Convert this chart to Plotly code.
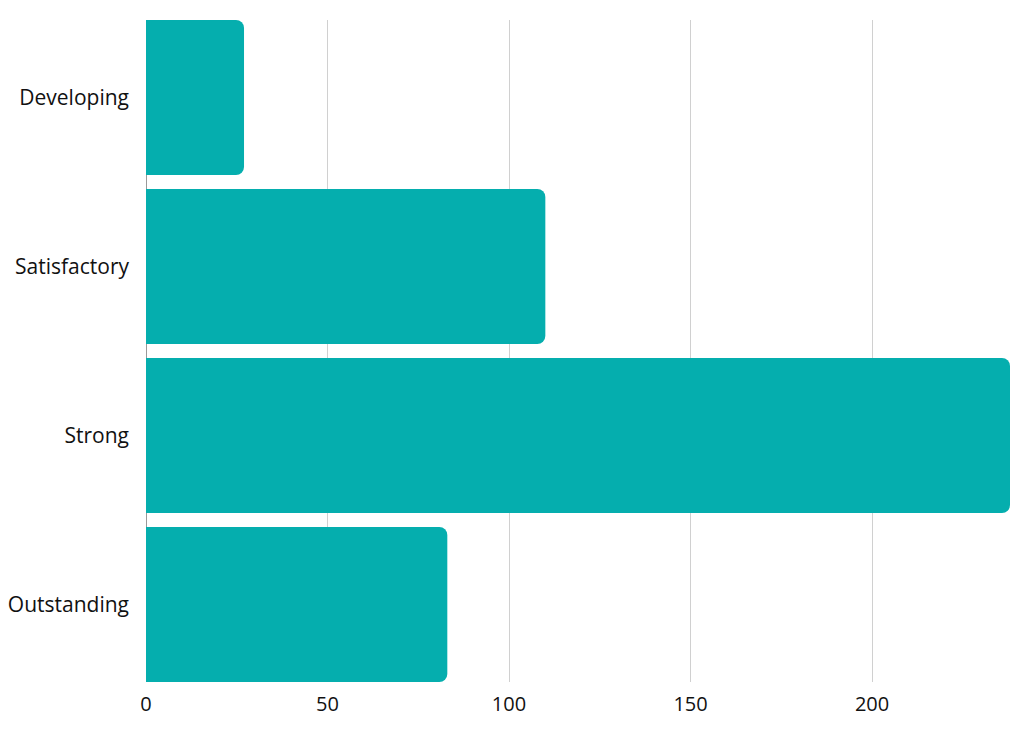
import plotly.graph_objects as go

categories = ["Outstanding", "Strong", "Satisfactory", "Developing"]
counts = [83, 238, 110, 27]
tick_vals = [0, 50, 100, 150, 200]

gap = 0.083

fig = go.Figure()

fig.add_trace(go.Bar(
    x=counts,
    y=categories,
    orientation="h",
    marker=dict(color="#05aeae", cornerradius=8, line=dict(width=0)),
    hoverinfo="skip",
    showlegend=False,
))

# the page body adds an 8px offset, so margins are shifted to compensate
fig.update_layout(
    width=1024,
    height=742,
    margin=dict(l=138, r=22, t=12, b=68),
    paper_bgcolor="white",
    plot_bgcolor="white",
    bargap=gap,
    font=dict(family="Open Sans, Lato, sans-serif", size=21, color="#111111"),
    xaxis=dict(
        range=[0, 238],
        tickvals=tick_vals,
        showgrid=True,
        gridcolor="#d0d0d0",
        gridwidth=1,
        zeroline=True,
        zerolinecolor="#999999",
        zerolinewidth=1,
        ticks="",
        ticklen=0,
        ticklabelstandoff=8,
        tickfont=dict(size=20),
        automargin=False,
    ),
    yaxis=dict(
        range=[-0.5 + gap / 2, 3.5 - gap / 2],
        showgrid=False,
        ticks="",
        ticklabelstandoff=16,
        tickfont=dict(size=21),
        automargin=False,
    ),
)

fig.write_html("out.html")
